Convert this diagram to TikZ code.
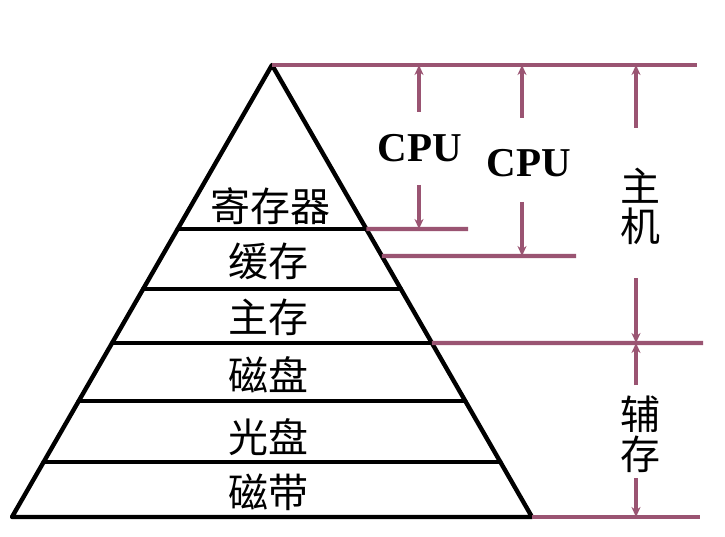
\documentclass[tikz,border=0pt]{standalone}
\usepackage{fontspec}
\setmainfont{Liberation Serif}
\newfontfamily\cjk{Noto Sans CJK SC}
\usetikzlibrary{calc,arrows.meta}
\definecolor{mauve}{RGB}{154,84,114}
\tikzset{
  layerline/.style={line width=4.4pt, black, line cap=round, line join=round},
  guide/.style={line width=4.2pt, mauve},
  dimarrow/.style={line width=3.4pt, mauve, -{Stealth[length=10pt,width=9pt]}},
  layertext/.style={font=\cjk\fontsize{40}{40}\selectfont, inner sep=0pt},
  sidetext/.style={font=\cjk\fontsize{40}{40}\selectfont, inner sep=0pt, align=center},
  cputext/.style={font=\bfseries\fontsize{41}{41}\selectfont, inner sep=0pt},
}
\begin{document}
\begin{tikzpicture}[x=1pt, y=-1pt]
\useasboundingbox (0,0) rectangle (725,537);
\fill[white] (0,0) rectangle (725,537);

% pyramid outline
\coordinate (apex) at (272,65);
\coordinate (bl) at (12,517);
\coordinate (br) at (532,517);

% dividing levels, as fractions of the height from the apex
\foreach \name/\t in {l1/0.3628, l2/0.4956, l3/0.6150, l4/0.7434, l5/0.8783}{
  \coordinate (\name L) at ($(apex)!\t!(bl)$);
  \coordinate (\name R) at ($(apex)!\t!(br)$);
}
\coordinate (cacheR) at ($(apex)!0.4226!(br)$);

\foreach \name in {l1,l2,l3,l4,l5}{
  \draw[layerline] (\name L) -- (\name R);
}
\draw[layerline] (apex) -- (bl) -- (br) -- cycle;

% layer labels
\node[layertext] (reg)  at (270,206) {寄存器};
\node[layertext] (cache) at (268,261) {缓存};
\node[layertext] (main) at (268,317) {主存};
\node[layertext] (disk) at (268,375) {磁盘};
\node[layertext] (opt)  at (268,437) {光盘};
\node[layertext] (tape) at (268,492) {磁带};

% guide lines to the right
\coordinate (topR) at (697,65);
\coordinate (g1R) at (468,229);
\coordinate (g2R) at (576,256);
\coordinate (g3R) at (703,343);
\coordinate (g4R) at (700,517);
\draw[guide] (apex) -- (topR);
\draw[guide] (l1R) -- (g1R);
\draw[guide] (cacheR) -- (g2R);
\draw[guide] (l3R) -- (g3R);
\draw[guide] (br) -- (g4R);

% span labels
\node[cputext] (cpu1) at (420,148) {CPU};
\node[cputext] (cpu2) at (529,163) {CPU};
\node[sidetext] (host) at (640,206) {主\\机};
\node[sidetext] (aux)  at (640,434) {辅\\存};

\coordinate (c1t) at (419,65);
\coordinate (c1b) at (419,229);
\coordinate (c2t) at (522,65);
\coordinate (c2b) at (522,256);
\coordinate (ht) at (636,65);
\coordinate (hb) at (636,343);
\coordinate (ab) at (636,517);

\draw[dimarrow] (419,112) -- (c1t);
\draw[dimarrow] (419,185) -- (c1b);
\draw[dimarrow] (522,118) -- (c2t);
\draw[dimarrow] (522,202) -- (c2b);
\draw[dimarrow] (636,128) -- (ht);
\draw[dimarrow] (636,278) -- (hb);
\draw[dimarrow] (636,385) -- (hb);
\draw[dimarrow] (636,478) -- (ab);
\end{tikzpicture}
\end{document}
